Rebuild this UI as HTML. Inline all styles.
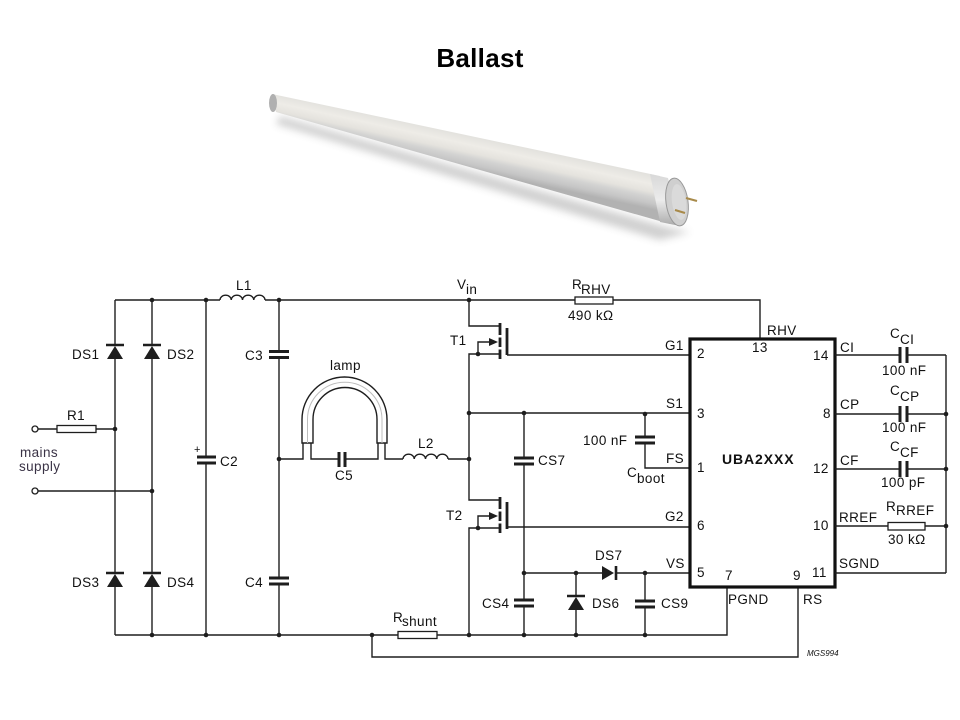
<!DOCTYPE html>
<html><head><meta charset="utf-8"><style>
html,body{margin:0;padding:0;background:#fff;}
svg{display:block;}
.w{fill:none;stroke:#1e1e1e;stroke-width:1.4;}
.p{fill:none;stroke:#1e1e1e;stroke-width:3;}
.d{fill:#1e1e1e;}
text{font-family:"Liberation Sans",Arial,sans-serif;font-size:13.5px;fill:#111;letter-spacing:0.4px;}
</style></head><body>
<svg width="960" height="720" viewBox="0 0 960 720" xmlns="http://www.w3.org/2000/svg">
<defs>
<linearGradient id="tube" gradientUnits="userSpaceOnUse" x1="478" y1="133" x2="470" y2="170">
<stop offset="0" stop-color="#c6c6c6"/>
<stop offset="0.1" stop-color="#e2e1dd"/>
<stop offset="0.35" stop-color="#eeece7"/>
<stop offset="0.55" stop-color="#e5e3de"/>
<stop offset="0.68" stop-color="#d3d3d2"/>
<stop offset="0.85" stop-color="#c6c6c6"/>
<stop offset="1" stop-color="#b2b2b2"/>
</linearGradient>
<linearGradient id="cap" x1="0" y1="0" x2="0" y2="1">
<stop offset="0" stop-color="#d8d8d8"/>
<stop offset="0.5" stop-color="#ececec"/>
<stop offset="1" stop-color="#aaaaaa"/>
</linearGradient>
<filter id="blur"><feGaussianBlur stdDeviation="4"/></filter>
</defs>
<rect width="960" height="720" fill="#fff"/>
<text x="480" y="67" text-anchor="middle" style="font-size:26px;font-weight:bold;fill:#000;letter-spacing:0.3px">Ballast</text>

<!-- tube image -->
<polygon points="280,116 670,228 690,232 660,240 276,124" fill="#666" opacity="0.3" filter="url(#blur)"/>
<polygon points="272,94 660,176 670,224 276,112" fill="url(#tube)"/>
<polygon points="650,174 668,178 680,226 660,222" fill="url(#cap)"/>
<ellipse cx="677" cy="202" rx="11" ry="24" fill="#cfcfcf" stroke="#999" stroke-width="1" transform="rotate(-8 677 202)"/>
<ellipse cx="679" cy="202" rx="7" ry="18" fill="#dadada" transform="rotate(-8 679 202)"/>
<line x1="686" y1="198" x2="697" y2="201" stroke="#a88a4a" stroke-width="2.2"/>
<line x1="675" y1="210" x2="685" y2="213" stroke="#a88a4a" stroke-width="2.2"/>
<ellipse cx="273" cy="103" rx="4" ry="9" fill="#b0b0b0"/>

<!-- wires -->
<path class="w" d="M115,300 H220 M265,300 H575 M613,300 H760 V339"/>
<path class="w" d="M220,300 a5.625,4.8 0 0 1 11.25,0 a5.625,4.8 0 0 1 11.25,0 a5.625,4.8 0 0 1 11.25,0 a5.625,4.8 0 0 1 11.25,0"/>
<!-- left bridge -->
<path class="w" d="M115,300 V345 M115,359 V573 M115,587 V635"/>
<path class="w" d="M152,300 V345 M152,359 V573 M152,587 V635"/>
<path class="p" d="M106,345 H124 M143,345 H161 M106,573 H124 M143,573 H161" style="stroke-width:2.6"/>
<path class="d" d="M115,346 L123,359 L107,359 Z M152,346 L160,359 L144,359 Z M115,574 L123,587 L107,587 Z M152,574 L160,587 L144,587 Z"/>
<!-- mains -->
<circle cx="35" cy="429" r="3" fill="#fff" stroke="#1e1e1e" stroke-width="1.3"/>
<circle cx="35" cy="491" r="3" fill="#fff" stroke="#1e1e1e" stroke-width="1.3"/>
<path class="w" d="M38,429 H57 M96,429 H115 M38,491 H152"/>
<rect x="57" y="425.5" width="39" height="7" fill="#fff" stroke="#1e1e1e" stroke-width="1.3"/>
<!-- C2 -->
<path class="w" d="M206,300 V457 M206,463 V635"/>
<path class="p" d="M197,457 H216 M197,463 H216"/>
<text x="194" y="453" style="font-size:11px">+</text>
<!-- C3 C4 -->
<path class="w" d="M279,300 V351.5 M279,357.5 V578 M279,584 V635"/>
<path class="p" d="M269,351.5 H289 M269,357.5 H289 M269,578 H289 M269,584 H289"/>
<!-- bottom rail -->
<path class="w" d="M115,635 H398 M437,635 H727 V587"/>
<rect x="398" y="631.5" width="39" height="7" fill="#fff" stroke="#1e1e1e" stroke-width="1.3"/>
<path class="w" d="M372,635 V657 H798 V587"/>
<!-- lamp -->
<path class="w" d="M302,443 V419.5 A42.5,42.5 0 0 1 387,419.5 V443 H377 V419.5 A32,32 0 0 0 313,419.5 V443 Z"/>
<path d="M307.5,443 V419.5 A37,37 0 0 1 382,419.5 V443" fill="none" stroke="#bdbdbd" stroke-width="1"/>
<path class="w" d="M279,459 H303 V443 M311,443 V459 H339 M345,459 H378 V443 M385,443 V459 H403 M448,459 H469"/>
<path class="p" d="M339,452 V467 M345,452 V467"/>
<path class="w" d="M403,459 a5.625,4.8 0 0 1 11.25,0 a5.625,4.8 0 0 1 11.25,0 a5.625,4.8 0 0 1 11.25,0 a5.625,4.8 0 0 1 11.25,0"/>
<!-- R_RHV -->
<rect x="575" y="297" width="38" height="7" fill="#fff" stroke="#1e1e1e" stroke-width="1.3"/>
<!-- T1 -->
<path class="w" d="M469,300 V326 H500 M500,354 H469 V500 H500 M507,355 H690"/>
<path class="p" d="M500,323 V335 M500,337.5 V347 M500,349.5 V359 M507,328 V355" style="stroke-width:2.8"/>
<path class="w" d="M478,354 V342 H490"/>
<path class="d" d="M498,342 L489,338 L489,346 Z"/>
<!-- T2 -->
<path class="p" d="M500,497 V509 M500,511.5 V521 M500,523.5 V533 M507,502 V529" style="stroke-width:2.8"/>
<path class="w" d="M500,528 H469 V635 M507,527 H690"/>
<path class="w" d="M478,528 V516 H490"/>
<path class="d" d="M498,516 L489,512 L489,520 Z"/>
<!-- S1 and CS7 -->
<path class="w" d="M469,413 H690 M524,413 V458 M524,464 V600 M524,606 V635"/>
<path class="p" d="M514,458 H534 M514,464 H534 M514,600 H534 M514,606 H534"/>
<!-- Cboot -->
<path class="w" d="M645,414 V437 M645,443 V468 H690"/>
<path class="p" d="M635,437 H655 M635,443 H655"/>
<!-- VS -->
<path class="w" d="M524,573 H602 M616,573 H690 M576,573 V596 M576,610 V635 M645,573 V601 M645,607 V635"/>
<path class="d" d="M602,566 L614,573 L602,580 Z M576,597 L584,610 L568,610 Z"/>
<path class="p" d="M616,566 V580 M567,596 H585" style="stroke-width:2.6"/>
<path class="p" d="M635,601 H655 M635,607 H655"/>
<!-- IC -->
<rect x="690" y="339" width="145" height="248" fill="#fff" stroke="#111" stroke-width="3.2"/>
<!-- right side -->
<path class="w" d="M835,355 H900 M907,355 H946 M835,414 H900 M907,414 H946 M835,469 H900 M907,469 H946 M835,526 H888 M925,526 H946 M835,573 H946 M946,355 V573"/>
<path class="p" d="M900,347 V363 M907,347 V363 M900,406 V422 M907,406 V422 M900,461 V477 M907,461 V477"/>
<rect x="888" y="522.5" width="37" height="7.5" fill="#fff" stroke="#1e1e1e" stroke-width="1.3"/>

<!-- dots -->
<g class="d">
<circle cx="152" cy="300" r="2.3"/><circle cx="206" cy="300" r="2.3"/><circle cx="279" cy="300" r="2.3"/><circle cx="469" cy="300" r="2.3"/>
<circle cx="115" cy="429" r="2.3"/><circle cx="152" cy="491" r="2.3"/><circle cx="279" cy="459" r="2.3"/>
<circle cx="478" cy="354" r="2.3"/><circle cx="478" cy="528" r="2.3"/>
<circle cx="469" cy="413" r="2.3"/><circle cx="524" cy="413" r="2.3"/><circle cx="469" cy="459" r="2.3"/><circle cx="645" cy="414" r="2.3"/>
<circle cx="524" cy="573" r="2.3"/><circle cx="576" cy="573" r="2.3"/><circle cx="645" cy="573" r="2.3"/>
<circle cx="152" cy="635" r="2.3"/><circle cx="206" cy="635" r="2.3"/><circle cx="279" cy="635" r="2.3"/><circle cx="372" cy="635" r="2.3"/>
<circle cx="469" cy="635" r="2.3"/><circle cx="524" cy="635" r="2.3"/><circle cx="576" cy="635" r="2.3"/><circle cx="645" cy="635" r="2.3"/>
<circle cx="946" cy="414" r="2.3"/><circle cx="946" cy="469" r="2.3"/><circle cx="946" cy="526" r="2.3"/>
</g>

<!-- labels -->
<text x="236" y="290">L1</text>
<text x="72" y="359">DS1</text>
<text x="167" y="359">DS2</text>
<text x="72" y="587">DS3</text>
<text x="167" y="587">DS4</text>
<text x="67" y="420">R1</text>
<text x="20" y="457" style="fill:#3a3346">mains</text>
<text x="19" y="471" style="fill:#3a3346">supply</text>
<text x="220" y="466">C2</text>
<text x="245" y="360">C3</text>
<text x="245" y="587">C4</text>
<text x="330" y="370">lamp</text>
<text x="335" y="480">C5</text>
<text x="418" y="448">L2</text>
<text x="457" y="289">V</text><text x="466" y="294">in</text>
<text x="450" y="345">T1</text>
<text x="446" y="520">T2</text>
<text x="538" y="465">CS7</text>
<text x="482" y="608">CS4</text>
<text x="393" y="622">R</text><text x="402" y="626">shunt</text>
<text x="572" y="289">R</text><text x="581" y="294">RHV</text>
<text x="568" y="320">490 kΩ</text>
<text x="767" y="335">RHV</text>
<text x="752" y="352">13</text>
<text x="665" y="350">G1</text>
<text x="697" y="358">2</text>
<text x="666" y="408">S1</text>
<text x="697" y="418">3</text>
<text x="583" y="445">100 nF</text>
<text x="666" y="463">FS</text>
<text x="697" y="472">1</text>
<text x="627" y="477">C</text><text x="637" y="483">boot</text>
<text x="722" y="464" style="font-weight:bold;font-size:14px;letter-spacing:0.9px">UBA2XXX</text>
<text x="665" y="521">G2</text>
<text x="697" y="530">6</text>
<text x="666" y="568">VS</text>
<text x="697" y="577">5</text>
<text x="725" y="580">7</text>
<text x="793" y="580">9</text>
<text x="812" y="577">11</text>
<text x="813" y="360">14</text>
<text x="823" y="418">8</text>
<text x="813" y="473">12</text>
<text x="813" y="530">10</text>
<text x="728" y="604">PGND</text>
<text x="803" y="604">RS</text>
<text x="807" y="656" style="font-size:8px;font-style:italic;letter-spacing:0">MGS994</text>
<text x="595" y="560">DS7</text>
<text x="592" y="608">DS6</text>
<text x="661" y="608">CS9</text>
<text x="840" y="352">CI</text>
<text x="840" y="409">CP</text>
<text x="840" y="465">CF</text>
<text x="839" y="522">RREF</text>
<text x="839" y="568">SGND</text>
<text x="890" y="338">C</text><text x="900" y="344">CI</text>
<text x="882" y="375">100 nF</text>
<text x="890" y="395">C</text><text x="900" y="401">CP</text>
<text x="882" y="432">100 nF</text>
<text x="890" y="451">C</text><text x="900" y="457">CF</text>
<text x="881" y="487">100 pF</text>
<text x="886" y="511">R</text><text x="896" y="515">RREF</text>
<text x="888" y="544">30 kΩ</text>
</svg>
</body></html>
